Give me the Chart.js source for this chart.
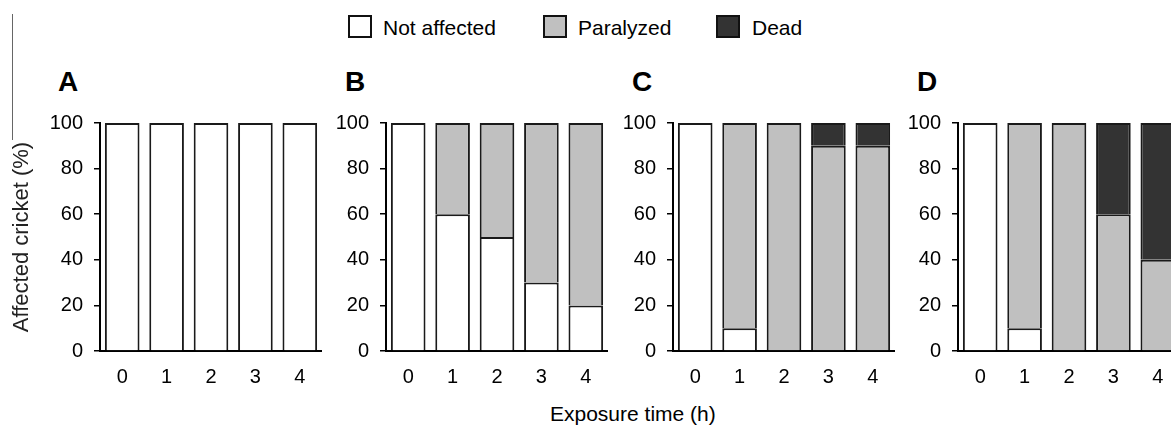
<!DOCTYPE html>
<html>
<head>
<meta charset="utf-8">
<script src="https://cdn.jsdelivr.net/npm/chart.js@4/dist/chart.umd.min.js"></script>
<style>
  html, body { margin: 0; padding: 0; background: #fff; overflow: hidden; }
  body { width: 1171px; height: 427px; position: relative; font-family: "Liberation Sans", Arial, sans-serif; color: #000; }
  .panel { position: absolute; top: 100px; height: 300px; }
  .letter { position: absolute; top: 68px; font-size: 28px; line-height: 28px; font-weight: bold; }
  .legend { position: absolute; top: 15px; width: 20px; height: 19px; border: 2px solid #111; }
  .legtext { position: absolute; top: 17px; font-size: 21px; line-height: 21px; }
  #xtitle { position: absolute; left: 550px; top: 403px; font-size: 21px; line-height: 21px; }
  #edge { position: absolute; left: 12px; top: 14px; width: 1px; height: 126px; background: #666; }
</style>
</head>
<body>
<div id="edge"></div>

<div class="legend" style="left:348px;background:#ffffff"></div>
<div class="legtext" style="left:383px">Not affected</div>
<div class="legend" style="left:543px;background:#c0c0c0"></div>
<div class="legtext" style="left:578px">Paralyzed</div>
<div class="legend" style="left:716px;background:#333333"></div>
<div class="legtext" style="left:752px">Dead</div>

<div class="letter" style="left:58px">A</div>
<div class="letter" style="left:345px">B</div>
<div class="letter" style="left:632px">C</div>
<div class="letter" style="left:917px">D</div>

<div class="panel" style="left:0px;width:322px"><canvas id="chartA"></canvas></div>
<div class="panel" style="left:306px;width:302px"><canvas id="chartB"></canvas></div>
<div class="panel" style="left:593px;width:302px"><canvas id="chartC"></canvas></div>
<div class="panel" style="left:878px;width:302px"><canvas id="chartD"></canvas></div>

<div id="xtitle">Exposure time (h)</div>

<script>
// exposure time categories
const hours = ['0', '1', '2', '3', '4'];

// A
const notAffectedA = [100, 100, 100, 100, 100];
const paralyzedA   = [0, 0, 0, 0, 0];
const deadA        = [0, 0, 0, 0, 0];
// B
const notAffectedB = [100, 60, 50, 30, 20];
const paralyzedB   = [0, 40, 50, 70, 80];
const deadB        = [0, 0, 0, 0, 0];
// C
const notAffectedC = [100, 10, 0, 0, 0];
const paralyzedC   = [0, 90, 100, 90, 90];
const deadC        = [0, 0, 0, 10, 10];
// D
const notAffectedD = [100, 10, 0, 0, 0];
const paralyzedD   = [0, 90, 100, 60, 40];
const deadD        = [0, 0, 0, 40, 60];

Chart.defaults.font.family = '"Liberation Sans", Arial, sans-serif';
Chart.defaults.color = '#000';

function makePanel(id, yWidth, notAffected, paralyzed, dead, showTitle) {
  const ctx = document.getElementById(id).getContext('2d');
  const barStyle = {
    borderColor: '#1a1a1a',
    borderWidth: 2,
    categoryPercentage: 1.0,
    barPercentage: 0.78
  };
  return new Chart(ctx, {
    type: 'bar',
    data: {
      labels: hours,
      datasets: [
        Object.assign({ label: 'Not affected', data: notAffected, backgroundColor: '#ffffff' }, barStyle),
        Object.assign({ label: 'Paralyzed', data: paralyzed, backgroundColor: '#c0c0c0' }, barStyle),
        Object.assign({ label: 'Dead', data: dead, backgroundColor: '#333333' }, barStyle)
      ]
    },
    options: {
      responsive: true,
      maintainAspectRatio: false,
      animation: false,
      layout: { padding: { top: 23, right: 0, bottom: 0, left: 0 } },
      plugins: {
        legend: { display: false },
        tooltip: { enabled: false }
      },
      scales: {
        x: {
          stacked: true,
          grid: { display: false, drawTicks: false },
          border: { display: true, color: '#000', width: 2 },
          ticks: { font: { size: 20 }, padding: 14 },
          afterFit: function(scale) { scale.height = 49; }
        },
        y: {
          stacked: true,
          min: 0,
          max: 100,
          grid: { drawOnChartArea: false, drawTicks: true, tickLength: 6, color: '#000', lineWidth: 1.5 },
          border: { display: true, color: '#000', width: 2 },
          ticks: { stepSize: 20, font: { size: 20 }, padding: 11 },
          title: {
            display: showTitle,
            text: 'Affected cricket (%)',
            color: '#222',
            font: { size: 22 },
            padding: { top: 9, bottom: 0 }
          },
          afterFit: function(scale) { scale.width = yWidth; }
        }
      }
    }
  });
}

makePanel('chartA', 100, notAffectedA, paralyzedA, deadA, true);
makePanel('chartB', 80, notAffectedB, paralyzedB, deadB, false);
makePanel('chartC', 80, notAffectedC, paralyzedC, deadC, false);
makePanel('chartD', 80, notAffectedD, paralyzedD, deadD, false);
</script>
</body>
</html>
